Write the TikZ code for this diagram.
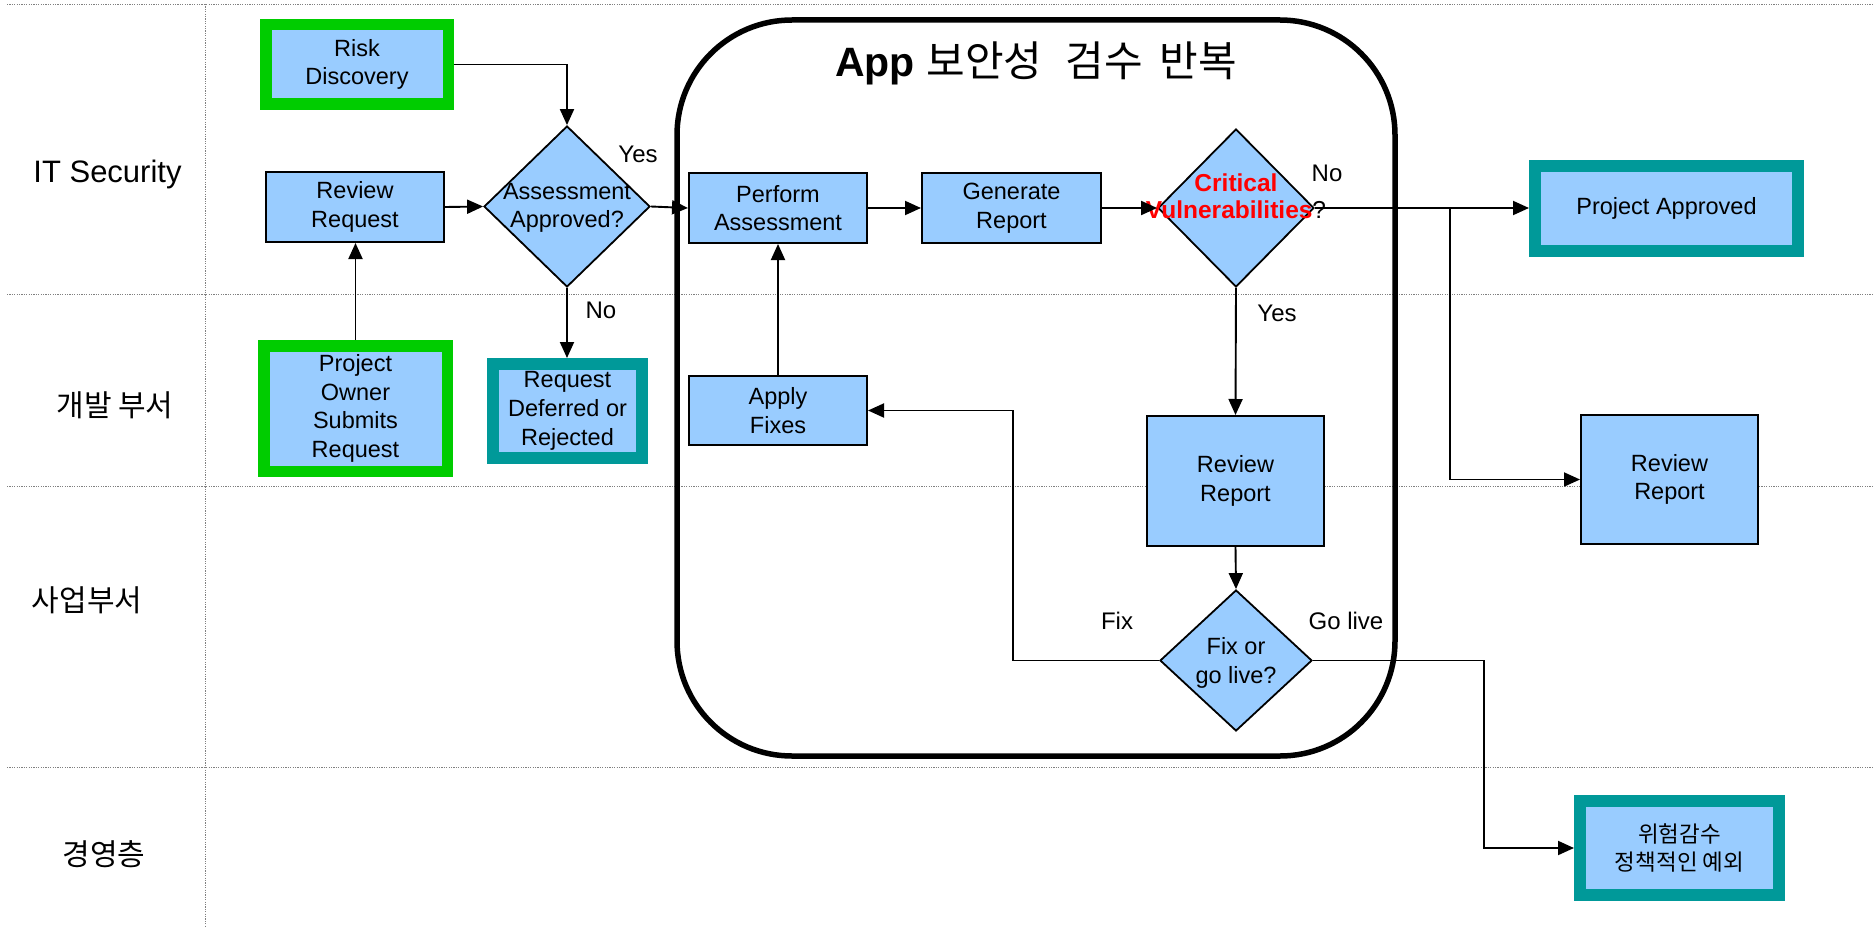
\documentclass[tikz,border=0pt]{standalone}
\usepackage{fontspec}
\setmainfont{Liberation Sans}
\newfontfamily\kr{Noto Sans CJK KR}
\usetikzlibrary{shapes.geometric,arrows.meta}
\definecolor{boxblue}{HTML}{99CCFF}
\definecolor{startgreen}{HTML}{00CC00}
\definecolor{endteal}{HTML}{009999}
\definecolor{critred}{HTML}{FF0000}
\definecolor{lanegray}{HTML}{808080}
\newcommand\boxfont{\fontsize{23.5}{28.7}\selectfont}
\newcommand\lblfont{\fontsize{24}{28}\selectfont}
\newcommand\lanefont{\fontsize{31}{36}\selectfont}
\newcommand\lanekrfont{\kr\fontsize{30}{36}\selectfont}
\newcommand\titlefont{\fontsize{41}{48}\selectfont}
\begin{document}
\begin{tikzpicture}[x=1pt,y=-1pt,
  lane/.style={draw=lanegray, line width=0.9pt, dash pattern=on 1.2pt off 1.2pt},
  proc/.style={draw=black, line width=2pt, fill=boxblue, inner sep=0pt, align=center, font=\boxfont},
  startbox/.style={proc, draw=startgreen, line width=11.5pt},
  endbox/.style={proc, draw=endteal, line width=12pt},
  decision/.style={diamond, draw=black, line width=1.8pt, fill=boxblue, inner sep=0pt},
  dtext/.style={align=center, font=\boxfont, inner sep=0pt},
  flow/.style={line width=1.9pt, -{Triangle[length=16pt,width=14pt]}},
  lbl/.style={font=\lblfont, inner sep=0pt},
  loopbox/.style={draw=black, line width=5.5pt, rounded corners=115pt},
]
\useasboundingbox (0,0) rectangle (1873,928);
\fill[white] (0,0) rectangle (1873,928);

% swimlane grid
\draw[lane] (7,4) -- (1873,4);
\draw[lane] (7,294) -- (1873,294);
\draw[lane] (7,486) -- (1873,486);
\draw[lane] (7,767) -- (1873,767);
\draw[lane] (205,4) -- (205,928);

% lane titles
\node[font=\lanefont, anchor=base] (laneit) at (107.5,183) {IT Security};
\node[font=\lanekrfont] (lanedev) at (115,405) {개발 부서};
\node[font=\lanekrfont] (lanebiz) at (87,600) {사업부서};
\node[font=\lanekrfont] (lanemgmt) at (104,854) {경영층};

% iteration frame
\draw[loopbox] (677,20) rectangle (1395,756);
\node[font=\titlefont, anchor=base] (looptitle) at (1036,77) {{\bfseries App} {\kr\fontsize{42}{48}\selectfont 보안성 \hspace{14pt}검수 \hspace{7pt}반복}};

% steps
\node[startbox, minimum width=182.5pt, minimum height=79.5pt] (risk) at (357,64.5) {Risk\\Discovery};
\node[proc, minimum width=178pt, minimum height=70pt] (review) at (355,207) {Review\\Request};
\node[startbox, minimum width=183.5pt, minimum height=125.5pt] (owner) at (355.5,408.5) {Project\\Owner\\Submits\\Request};
\node[decision, minimum width=166pt, minimum height=161pt] (assess) at (567,206.5) {};
\node[dtext] (assesstxt) at (567,208) {Assessment\\Approved?};
\node[endbox, minimum width=149pt, minimum height=94pt] (defer) at (567.5,411) {Request\\Deferred or\\Rejected};

\node[proc, minimum width=178pt, minimum height=70pt] (perform) at (778,208) {Perform\\Assessment};
\node[proc, minimum width=179pt, minimum height=70pt] (generate) at (1011.5,208) {Generate\\Report};
\node[decision, minimum width=156pt, minimum height=158pt] (crit) at (1236,208) {};
\node[dtext, font=\fontsize{24.5}{27}\selectfont] (crittxt) at (1236,196) {\textcolor{critred}{\bfseries Critical}\\\textcolor{critred}{\bfseries Vulnerabilities}?};
\node[proc, minimum width=178pt, minimum height=69pt] (apply) at (778,410.5) {Apply\\Fixes};
\node[proc, minimum width=177pt, minimum height=130pt] (rrin) at (1235.5,481) {Review\\Report};
\node[decision, minimum width=152pt, minimum height=141pt] (fix) at (1236,660.5) {};
\node[dtext] (fixtxt) at (1236,663) {Fix or\\go live?};

\node[endbox, minimum width=263pt, minimum height=85pt] (approved) at (1666.5,208.5) {Project Approved};
\node[proc, minimum width=177pt, minimum height=129pt] (rrout) at (1669.5,479.5) {Review\\Report};
\node[endbox, minimum width=199pt, minimum height=94pt, font=\kr\fontsize{22.5}{28.5}\selectfont] (exception) at (1679.5,848) {위험감수\\정책적인 예외};

% bend points
\coordinate (nosplit) at (1450,208);
\coordinate (fixbend) at (1013,660.5);
\coordinate (livebend) at (1484,660.5);

% connectors
\draw[flow] (risk.east) -| (assess.north);
\draw[flow] (review.east) -- (assess.west);
\draw[flow] (owner.north) -- (owner.north |- review.south);
\draw[flow] (assess.south) -- (assess.south |- defer.north);
\draw[flow] (assess.east) -- (perform.west);
\draw[flow] (perform.east) -- (generate.west);
\draw[flow] (generate.east) -- (crit.west);
\draw[flow] (crit.east) -- (crit.east -| approved.west);
\draw[flow] (nosplit) |- (rrout.west);
\draw[flow] (crit.south) -- (rrin.north);
\draw[flow] (rrin.south) -- (fix.north);
\draw[flow] (fix.west) -- (fixbend) |- (apply.east);
\draw[flow] (apply.north) -- (perform.south);
\draw[flow] (fix.east) -- (livebend) |- (exception.west);

% branch labels
\node[lbl] (yes1) at (638,154) {Yes};
\node[lbl] (no1) at (601,310) {No};
\node[lbl] (no2) at (1327,173) {No};
\node[lbl] (yes2) at (1277,313) {Yes};
\node[lbl] (fixlbl) at (1117,621) {Fix};
\node[lbl] (livelbl) at (1346,621) {Go live};
\end{tikzpicture}
\end{document}
